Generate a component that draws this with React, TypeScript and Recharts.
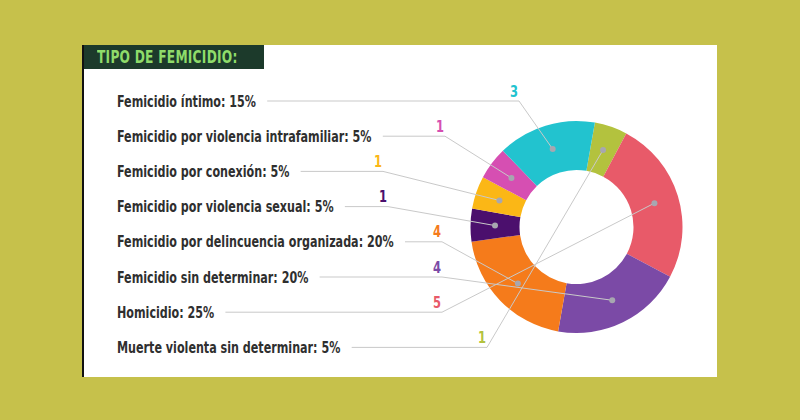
import React from 'react';
import { PieChart, Pie, Cell } from 'recharts';

const CATEGORIES = [
  'Muerte violenta sin determinar',
  'Homicidio',
  'Femicidio sin determinar',
  'Femicidio por delincuencia organizada',
  'Femicidio por violencia sexual',
  'Femicidio por conexión',
  'Femicidio por violencia intrafamiliar',
  'Femicidio íntimo',
];
const COUNTS = [1, 5, 4, 4, 1, 1, 1, 3];
const COLORS = ['#b3c23e', '#e85a69', '#7b4aa6', '#f57b1b', '#4b0f6d', '#fbb716', '#d64fb2', '#22c3cf'];

// annotation layout (label rows from top, leader-line bend x)
const ROW_Y0 = 101;
const ROW_STEP = 35.2;
const TEXT_X = 117;
const BEND_X = [519, 445, 383, 388, 442, 442, 442, 487];
const SQUEEZE = 0.8;
const LABEL_SIZE = 15.5;

const FONT = "'DejaVu Sans Condensed', 'DejaVu Sans', sans-serif";

const data = CATEGORIES.map((name, i) => ({ name, value: COUNTS[i] }));

let ctx: CanvasRenderingContext2D | null = null;
function measure(text: string) {
  if (!ctx) ctx = document.createElement('canvas').getContext('2d');
  if (!ctx) return text.length * 8;
  ctx.font = `bold ${LABEL_SIZE}px ${FONT}`;
  return ctx.measureText(text).width;
}

const RAD = Math.PI / 180;

const renderLabel = (props: any) => {
  const { cx, cy, midAngle, innerRadius, outerRadius, index, percent, value } = props;
  const row = data.length - 1 - index;
  const y = ROW_Y0 + ROW_STEP * row;
  const r = (innerRadius + outerRadius) / 2;
  const dx = cx + r * Math.cos(-midAngle * RAD);
  const dy = cy + r * Math.sin(-midAngle * RAD);
  const text = `${data[index].name}: ${Math.round(percent * 100)}%`;
  const startX = TEXT_X + measure(text) * SQUEEZE + 11;
  const bx = BEND_X[row];
  return (
    <g key={`lbl-${index}`}>
      <text
        transform={`translate(${TEXT_X},${y}) scale(${SQUEEZE},1)`}
        x={0}
        y={0}
        dominantBaseline="central"
        fontFamily={FONT}
        fontWeight="bold"
        fontSize={LABEL_SIZE}
        fill="#2f2f2f"
      >
        {text}
      </text>
      <polyline points={`${startX},${y} ${bx},${y} ${dx},${dy}`} fill="none" stroke="#c9c9c9" strokeWidth={1} />
      <circle cx={dx} cy={dy} r={3} fill="#a7a7b0" />
      <text
        transform={`translate(${bx - 5},${y - 10}) scale(${SQUEEZE},1)`}
        x={0}
        y={0}
        textAnchor="middle"
        dominantBaseline="central"
        fontFamily={FONT}
        fontWeight="bold"
        fontSize={16}
        fill={COLORS[index]}
      >
        {value}
      </text>
    </g>
  );
};

export default function App() {
  return (
    <div style={{ position: 'absolute', left: 0, top: 0, width: 800, height: 420, background: '#c6c14b', overflow: 'hidden' }}>
      <div style={{ position: 'absolute', left: 82, top: 45, width: 633, height: 332, background: '#ffffff', borderLeft: '2px solid #111' }} />
      <div style={{ position: 'absolute', left: 84, top: 45, width: 180, height: 24, background: '#1c3a2b' }} />
      <div
        style={{
          position: 'absolute', left: 97, top: 45, height: 24, whiteSpace: 'nowrap',
          color: '#8fdc6a', fontFamily: FONT, fontWeight: 'bold', fontSize: 17, lineHeight: '24px',
          transform: `scaleX(${SQUEEZE})`, transformOrigin: 'left center', letterSpacing: 0.3,
        }}
      >
        TIPO DE FEMICIDIO:
      </div>
      <div style={{ position: 'absolute', left: 0, top: 0 }}>
        <PieChart width={800} height={420}>
          <Pie
            data={data}
            dataKey="value"
            nameKey="name"
            cx={571.5}
            cy={222}
            innerRadius={57}
            outerRadius={106}
            startAngle={80}
            endAngle={-280}
            stroke="none"
            label={renderLabel}
            labelLine={false}
            isAnimationActive={false}
          >
            {data.map((d, i) => (
              <Cell key={d.name} fill={COLORS[i]} />
            ))}
          </Pie>
        </PieChart>
      </div>
    </div>
  );
}
